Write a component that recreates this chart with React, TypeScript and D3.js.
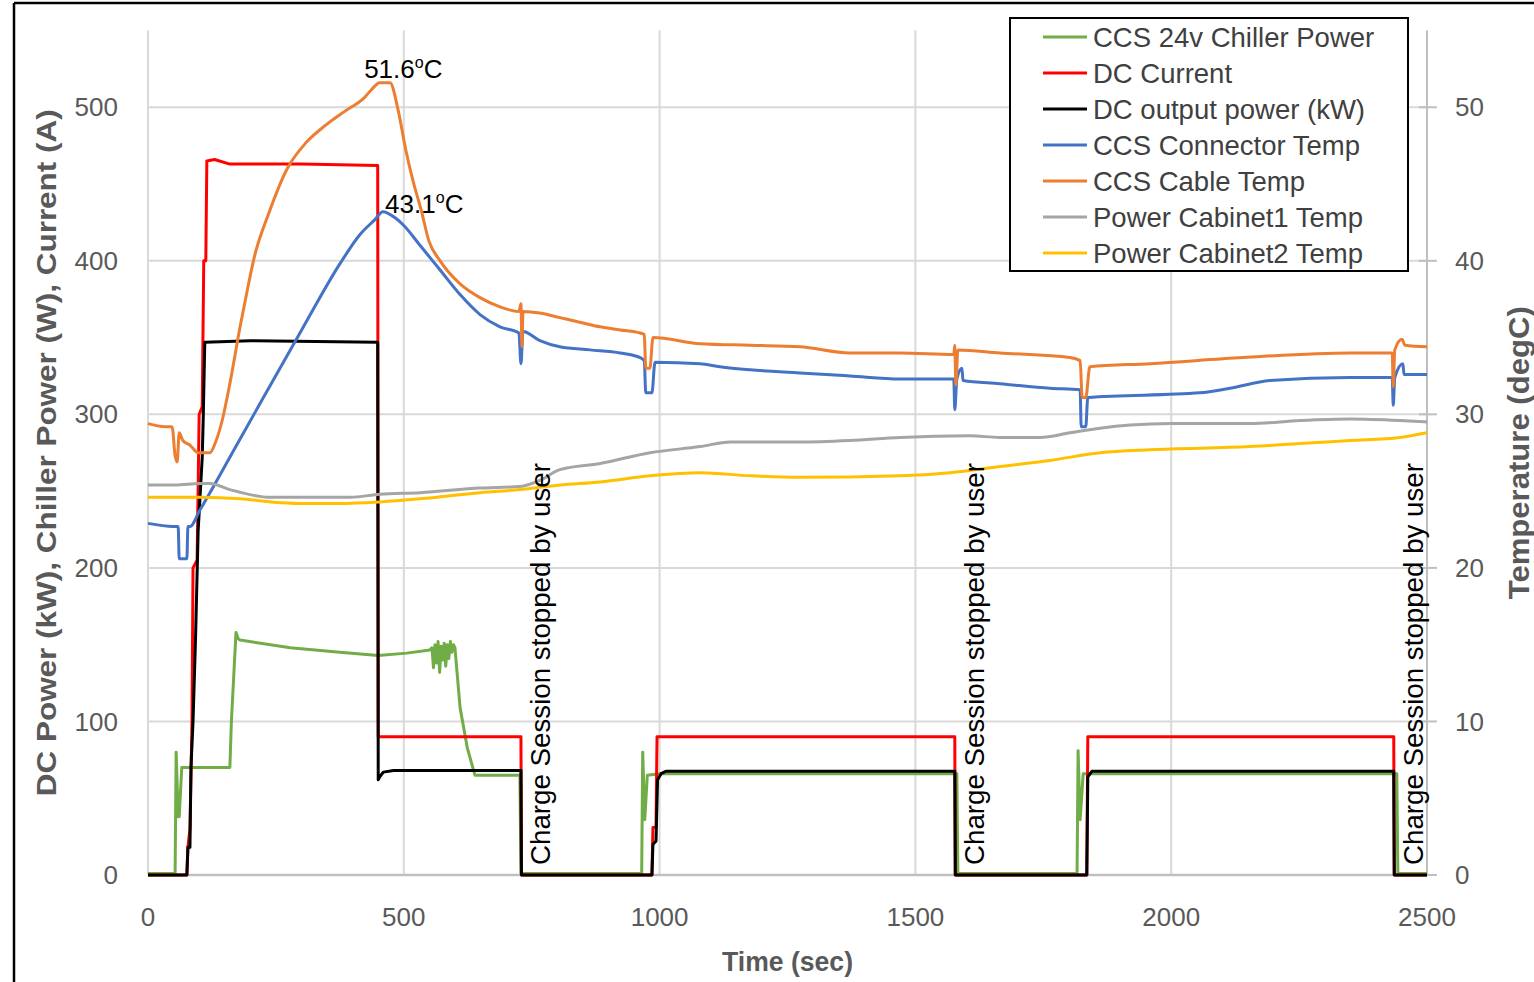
import React from "react";
import * as d3 from "d3";

// ---------- DATA ----------
const timeTicks = [0, 500, 1000, 1500, 2000, 2500];
const leftTicks = [0, 100, 200, 300, 400, 500];
const rightTicks = [0, 10, 20, 30, 40, 50];

const seriesNames = [
  "CCS 24v Chiller Power",
  "DC Current",
  "DC output power (kW)",
  "CCS Connector Temp",
  "CCS Cable Temp",
  "Power Cabinet1 Temp",
  "Power Cabinet2 Temp",
];
const seriesColors = ["#70AD47", "#FF0000", "#000000", "#4472C4", "#ED7D31", "#A5A5A5", "#FFC000"];

// [time (s), W]
const chillerPower: [number, number][] = [
  [0, 1], [53, 1], [55, 80], [59, 38], [61, 38], [66, 70], [160, 70], [163, 100], [172, 158],
  [176, 154], [180, 153], [278, 148], [375, 145], [450, 143], [506, 144.5], [551, 146.5],
  [555, 148], [558, 135], [561, 150], [564, 138], [567, 152], [570, 132], [573, 149], [576, 140],
  [579, 151], [582, 136], [585, 150], [588, 141], [591, 152], [594, 145], [597, 150], [600, 148],
  [610, 109], [624, 83], [639, 65], [727, 65], [729, 1], [965, 1], [967, 80], [971, 36],
  [976, 65], [1000, 66], [1581, 66], [1583, 1], [1816, 1], [1818, 81], [1822, 36], [1828, 66],
  [2441, 66], [2443, 1], [2500, 1],
];

// [time (s), A]
const dcCurrent: [number, number][] = [
  [0, 0], [76, 0], [78, 18], [82, 30], [86, 100], [88, 200], [96, 205], [100, 300], [106, 305],
  [109, 400], [113, 400], [115, 465], [130, 466], [160, 463], [300, 463], [449, 462], [450, 90],
  [729, 90], [730, 0], [985, 0], [987, 31], [993, 31], [995, 90], [1577, 90], [1578, 0],
  [1835, 0], [1837, 90], [2435, 90], [2436, 0], [2500, 0],
];

// [time (s), kW]
const dcPower: [number, number][] = [
  [0, 0], [76, 0], [78, 18], [82, 18], [84, 70], [88, 100], [93, 155], [98, 224], [106, 272],
  [108, 298], [111, 347], [200, 348], [449, 347], [450, 62], [453, 64], [460, 67], [480, 68],
  [729, 68], [730, 0], [985, 0], [987, 20], [993, 22], [996, 62], [1003, 66], [1012, 67.5],
  [1577, 67.5], [1578, 0], [1835, 0], [1837, 64], [1845, 67.5], [2435, 67.5], [2436, 0], [2500, 0],
];

// [time (s), degC]
const connectorTemp: [number, number][] = [
  [0, 22.9], [49, 22.7], [59, 22.7], [61, 20.6], [76, 20.6], [78, 22.7], [82, 22.7], [102, 23.8],
  [180, 28.4], [297, 35.3], [375, 39.8], [414, 41.7], [444, 42.7], [459, 43.2], [483, 42.8],
  [500, 42.3], [532, 41.0], [571, 39.4], [610, 37.8], [649, 36.5], [688, 35.7], [725, 35.3],
  [729, 33.3], [733, 35.4], [766, 34.8], [805, 34.4], [864, 34.2], [923, 34.0], [962, 33.7],
  [970, 33.5], [973, 31.4], [985, 31.4], [991, 33.4], [1079, 33.3], [1118, 33.1], [1177, 32.9],
  [1274, 32.7], [1372, 32.5], [1470, 32.3], [1575, 32.3], [1577, 30.3], [1581, 32.3], [1591, 33.0],
  [1593, 32.2], [1665, 32.0], [1763, 31.7], [1822, 31.6], [1824, 29.2], [1833, 29.2], [1837, 31.1],
  [2056, 31.4], [2115, 31.7], [2193, 32.2], [2350, 32.4], [2432, 32.4], [2434, 30.6], [2437, 32.4],
  [2453, 33.3], [2455, 32.6], [2500, 32.6],
];

const cableTemp: [number, number][] = [
  [0, 29.4], [33, 29.2], [47, 29.2], [53, 27.3], [57, 26.9], [61, 28.8], [68, 28.3], [82, 28.0],
  [98, 27.5], [121, 27.5], [131, 28.1], [145, 29.6], [160, 32.0], [180, 35.7], [190, 37.4],
  [209, 40.4], [235, 43.0], [272, 46.0], [309, 47.7], [346, 48.8], [383, 49.7], [422, 50.6],
  [444, 51.4], [452, 51.6], [473, 51.6], [489, 49.8], [504, 47.2], [518, 45.2], [534, 43.3],
  [549, 41.3], [571, 40.0], [610, 38.5], [649, 37.6], [688, 37.0], [725, 36.7], [729, 37.2],
  [731, 34.4], [733, 36.7], [766, 36.6], [805, 36.3], [844, 36.0], [884, 35.7], [923, 35.5],
  [962, 35.3], [970, 35.2], [973, 33.0], [981, 33.0], [987, 35.0], [1079, 34.6], [1177, 34.5],
  [1274, 34.4], [1372, 34.0], [1470, 34.0], [1575, 33.9], [1577, 34.5], [1579, 31.9], [1583, 34.2],
  [1665, 34.0], [1802, 33.7], [1822, 33.5], [1826, 31.1], [1833, 31.1], [1841, 33.1], [1959, 33.3],
  [2140, 33.7], [2350, 34.0], [2432, 34.0], [2434, 31.8], [2437, 34.2], [2451, 34.9], [2457, 34.5],
  [2500, 34.4],
];

const cabinet1Temp: [number, number][] = [
  [0, 25.4], [53, 25.4], [102, 25.5], [121, 25.5], [160, 25.1], [239, 24.6], [395, 24.6],
  [453, 24.8], [532, 24.9], [649, 25.2], [727, 25.3], [766, 25.7], [805, 26.4], [884, 26.8],
  [981, 27.5], [1079, 27.9], [1138, 28.2], [1274, 28.2], [1372, 28.3], [1470, 28.5], [1607, 28.6],
  [1665, 28.5], [1744, 28.5], [1802, 28.8], [1861, 29.1], [1920, 29.3], [2000, 29.4], [2154, 29.4],
  [2252, 29.6], [2350, 29.7], [2447, 29.6], [2500, 29.5],
];

const cabinet2Temp: [number, number][] = [
  [0, 24.6], [102, 24.6], [180, 24.5], [239, 24.3], [297, 24.2], [375, 24.2], [453, 24.3],
  [532, 24.5], [649, 24.9], [727, 25.1], [805, 25.4], [884, 25.6], [981, 26.0], [1079, 26.2],
  [1177, 26.0], [1274, 25.9], [1470, 26.0], [1568, 26.2], [1665, 26.6], [1763, 27.0], [1861, 27.5],
  [1959, 27.7], [2154, 27.9], [2252, 28.1], [2350, 28.3], [2447, 28.5], [2500, 28.8],
];

const stopTimes = [729, 1577, 2435];
const stopLabel = "Charge Session stopped by user";

const peakLabels = [
  { t: 499, temp: 51.6, text: "51.6", dy: -5 },
  { t: 540, temp: 43.1, text: "43.1", dy: 0 },
];

// ---------- LAYOUT ----------
const W = 1534;
const H = 982;
const M = { left: 148, right: 1427, top: 30.5, bottom: 875 };
const FONT = "'Liberation Sans', Arial, sans-serif";

export default function App() {
  const x = d3.scaleLinear().domain([0, 2500]).range([M.left, M.right]);
  const yL = d3.scaleLinear().domain([0, 550]).range([M.bottom, M.top]);
  const yR = d3.scaleLinear().domain([0, 55]).range([M.bottom, M.top]);

  const lineL = d3.line<[number, number]>().x((d) => x(d[0])).y((d) => yL(d[1]));
  const lineR = d3
    .line<[number, number]>()
    .x((d) => x(d[0]))
    .y((d) => yR(d[1]))
    .curve(d3.curveMonotoneX);

  const series = [
    { data: chillerPower, gen: lineL },
    { data: dcCurrent, gen: lineL },
    { data: dcPower, gen: lineL },
    { data: connectorTemp, gen: lineR },
    { data: cableTemp, gen: lineR },
    { data: cabinet1Temp, gen: lineR },
    { data: cabinet2Temp, gen: lineR },
  ];

  const grid = "#D9D9D9";
  const axisText = "#595959";

  return (
    <svg
      width={W}
      height={H}
      style={{ position: "absolute", left: 0, top: 0, background: "#fff" }}
      fontFamily={FONT}
    >
      {/* outer frame */}
      <line x1={14} y1={3} x2={W} y2={3} stroke="#000" strokeWidth={2.5} />
      <line x1={14} y1={3} x2={14} y2={H} stroke="#000" strokeWidth={2.5} />

      {/* gridlines */}
      {leftTicks.map((v) => (
        <line key={"h" + v} x1={M.left} x2={M.right} y1={yL(v)} y2={yL(v)} stroke={grid} strokeWidth={2} />
      ))}
      {timeTicks.map((t) => (
        <line key={"v" + t} x1={x(t)} x2={x(t)} y1={M.top} y2={M.bottom} stroke={grid} strokeWidth={2} />
      ))}
      <line x1={M.left} x2={M.right} y1={M.bottom} y2={M.bottom} stroke="#BFBFBF" strokeWidth={2.5} />
      <line x1={M.right} x2={M.right} y1={M.top} y2={M.bottom} stroke="#BFBFBF" strokeWidth={2} />
      {rightTicks.map((v) => (
        <line key={"rt" + v} x1={M.right - 8} x2={M.right + 10} y1={yR(v)} y2={yR(v)} stroke="#BFBFBF" strokeWidth={2} />
      ))}

      {/* tick labels */}
      {leftTicks.map((v) => (
        <text key={"lt" + v} x={118} y={yL(v)} dy="0.35em" textAnchor="end" fontSize={26} fill={axisText}>
          {v}
        </text>
      ))}
      {rightTicks.map((v) => (
        <text key={"rl" + v} x={1455} y={yR(v)} dy="0.35em" textAnchor="start" fontSize={26} fill={axisText}>
          {v}
        </text>
      ))}
      {timeTicks.map((t) => (
        <text key={"xt" + t} x={x(t)} y={917} dy="0.35em" textAnchor="middle" fontSize={26} fill={axisText}>
          {t}
        </text>
      ))}

      {/* axis titles */}
      <text
        x={(M.left + M.right) / 2}
        y={962}
        dy="0.35em"
        textAnchor="middle"
        fontSize={27}
        fontWeight="bold"
        fill={axisText}
        textLength={131}
        lengthAdjust="spacingAndGlyphs"
      >
        Time (sec)
      </text>
      <text
        transform={`translate(46,${(M.top + M.bottom) / 2}) rotate(-90)`}
        dy="0.35em"
        textAnchor="middle"
        fontSize={28}
        fontWeight="bold"
        fill={axisText}
        textLength={687}
        lengthAdjust="spacingAndGlyphs"
      >
        DC Power (kW), Chiller Power (W), Current (A)
      </text>
      <text
        transform={`translate(1518,${(M.top + M.bottom) / 2}) rotate(-90)`}
        dy="0.35em"
        textAnchor="middle"
        fontSize={30}
        fontWeight="bold"
        fill={axisText}
        textLength={293}
        lengthAdjust="spacingAndGlyphs"
      >
        Temperature (degC)
      </text>

      {/* series */}
      {series.map((s, i) => (
        <path
          key={"s" + i}
          d={s.gen(s.data) || ""}
          fill="none"
          stroke={seriesColors[i]}
          strokeWidth={3}
          strokeLinejoin="round"
        />
      ))}

      {/* stop annotations */}
      {stopTimes.map((t) => (
        <text
          key={"stop" + t}
          transform={`translate(${x(t) + 29},${M.bottom - 10}) rotate(-90)`}
          fontSize={27}
          fill="#000"
          textLength={402}
          lengthAdjust="spacingAndGlyphs"
        >
          {stopLabel}
        </text>
      ))}

      {/* peak labels */}
      {peakLabels.map((p) => (
        <text key={"pk" + p.text} x={x(p.t)} y={yR(p.temp) + p.dy} textAnchor="middle" fontSize={26} fill="#000">
          {p.text}
          <tspan fontSize={16} dy={-10}>o</tspan>
          <tspan dy={10}>C</tspan>
        </text>
      ))}

      {/* legend */}
      <rect x={1010} y={18} width={398} height={253} fill="#fff" stroke="#000" strokeWidth={2} />
      {seriesNames.map((name, i) => (
        <g key={"lg" + i} transform={`translate(0,${37 + i * 36})`}>
          <line x1={1043} x2={1087} y1={0} y2={0} stroke={seriesColors[i]} strokeWidth={3} />
          <text x={1093} y={0} dy="0.35em" fontSize={27.5} fill="#404040">
            {name}
          </text>
        </g>
      ))}
    </svg>
  );
}
